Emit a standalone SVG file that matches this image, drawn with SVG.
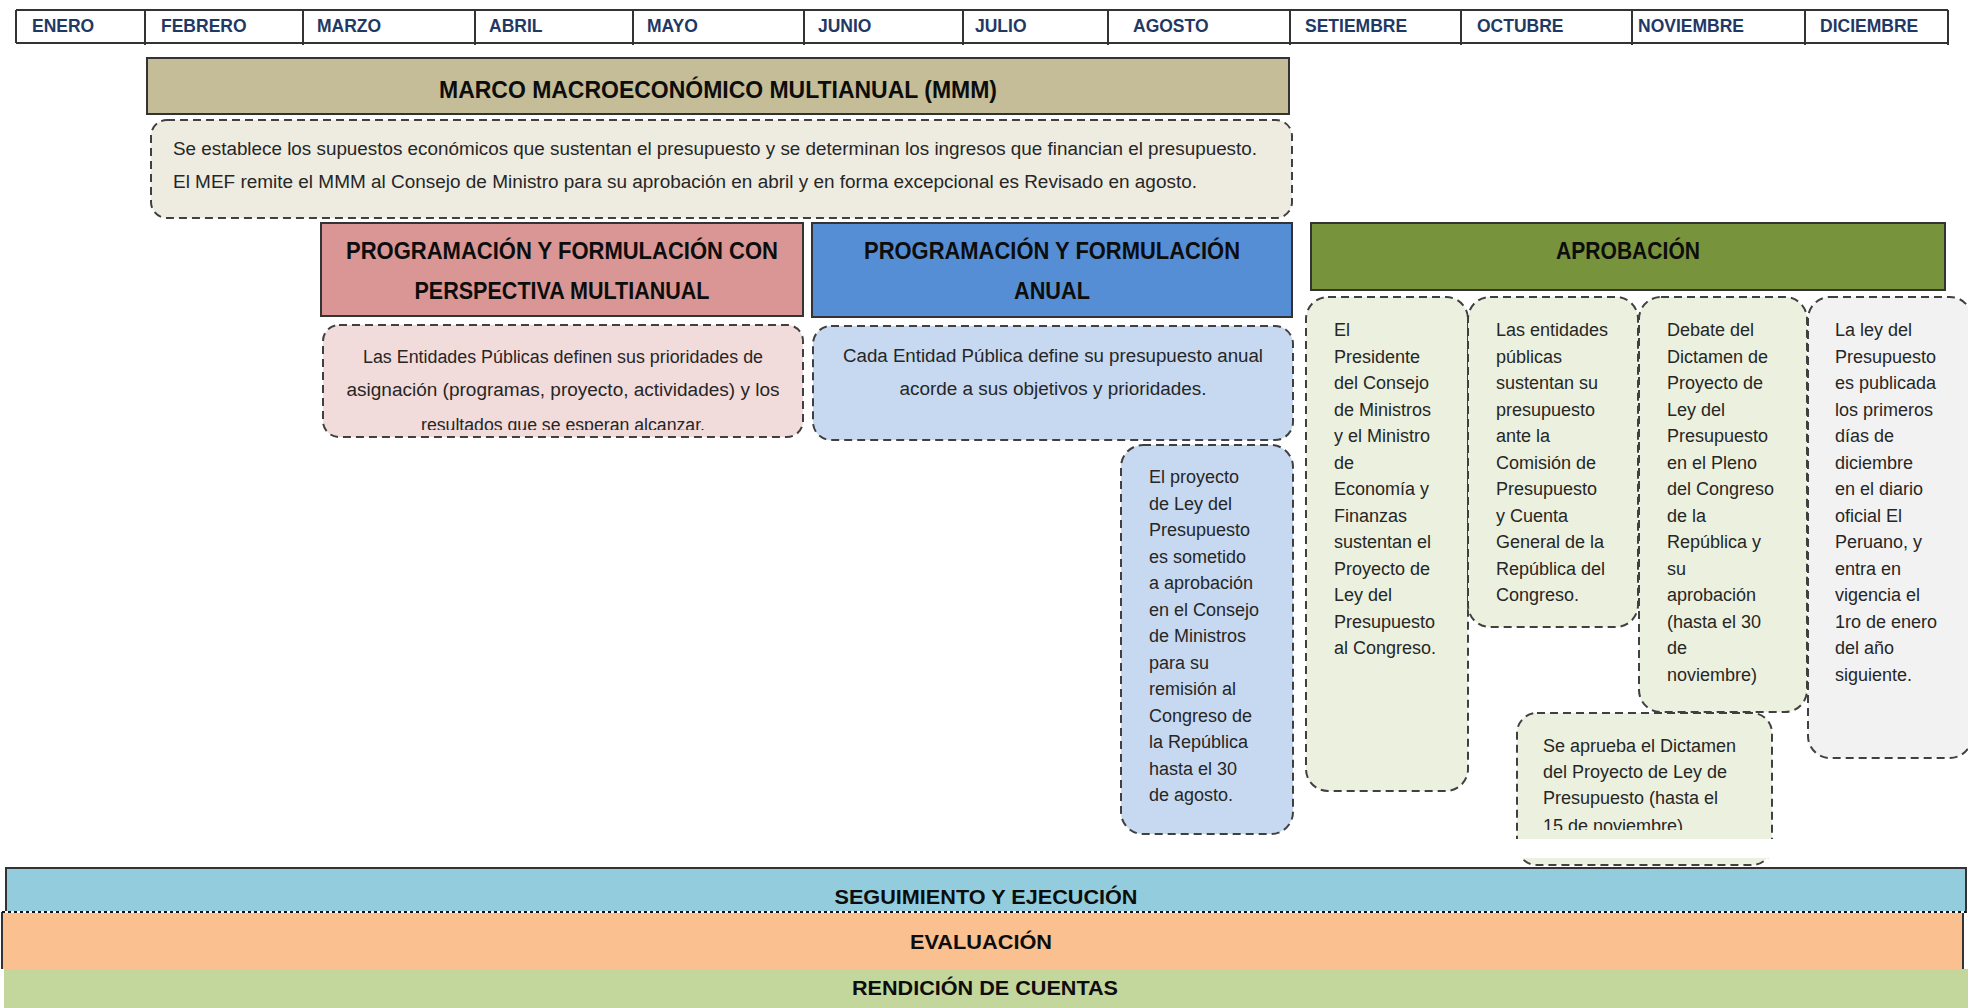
<svg xmlns="http://www.w3.org/2000/svg" width="1968" height="1008" viewBox="0 0 1968 1008">
<style>
text{font-family:"Liberation Sans",Arial,sans-serif}
.m{font-size:17.5px;font-weight:bold;fill:#1F3864}
.t{font-size:23px;font-weight:bold;fill:#0D0D0D;text-anchor:middle}
.bt{font-size:20px;font-weight:bold;fill:#0D0D0D;text-anchor:middle}
.b{font-size:18px;fill:#262626}
.c{text-anchor:middle}
.hd{stroke:#333;stroke-width:2}
.ds{stroke:#404040;stroke-width:2;stroke-dasharray:8 5}
.tl{stroke:#333;stroke-width:2;fill:none}
</style>
<defs>
<clipPath id="clipPink"><rect x="300" y="320" width="520" height="110"/></clipPath>
<clipPath id="clipAprueba"><rect x="1500" y="700" width="300" height="139"/><rect x="1500" y="858" width="300" height="20"/></clipPath>
<clipPath id="clipApruebaText"><rect x="1500" y="700" width="300" height="130"/></clipPath>
</defs>

<g id="calendar">
<path class="tl" d="M16 10H1948M16 43H1948M16 10V43M145 10V45M303 10V45M475 10V45M633 10V45M804 10V45M963 10V45M1108 10V45M1290 10V45M1461 10V45M1632 10V45M1805 10V45M1948 10V45"/>
<text class="m" x="32" y="32">ENERO</text>
<text class="m" x="161" y="32">FEBRERO</text>
<text class="m" x="317" y="32">MARZO</text>
<text class="m" x="489" y="32">ABRIL</text>
<text class="m" x="647" y="32">MAYO</text>
<text class="m" x="818" y="32">JUNIO</text>
<text class="m" x="975" y="32">JULIO</text>
<text class="m" x="1133" y="32">AGOSTO</text>
<text class="m" x="1305" y="32">SETIEMBRE</text>
<text class="m" x="1477" y="32">OCTUBRE</text>
<text class="m" x="1638" y="32">NOVIEMBRE</text>
<text class="m" x="1820" y="32">DICIEMBRE</text>
</g>

<g id="mmm">
<rect class="hd" x="147" y="58" width="1142" height="56" fill="#C4BD97"/>
<text class="t" x="718" y="98" font-size="24" textLength="558" lengthAdjust="spacingAndGlyphs">MARCO MACROECONÓMICO MULTIANUAL (MMM)</text>
</g>

<g id="mmm-desc">
<rect class="ds" x="151" y="120" width="1141" height="98" rx="16" fill="#EEECE1"/>
<text class="b" x="173" y="155" textLength="1084" lengthAdjust="spacingAndGlyphs">Se establece los supuestos económicos que sustentan el presupuesto y se determinan los ingresos que financian el presupuesto.</text>
<text class="b" x="173" y="188" textLength="1024" lengthAdjust="spacingAndGlyphs">El MEF remite el MMM al Consejo de Ministro para su aprobación en abril y en forma excepcional es Revisado en agosto.</text>
</g>

<g id="prog-multianual">
<rect class="hd" x="321" y="223" width="482" height="93" fill="#D99694"/>
<text class="t" x="562" y="259" textLength="432" lengthAdjust="spacingAndGlyphs">PROGRAMACIÓN Y FORMULACIÓN CON</text>
<text class="t" x="562" y="299" textLength="295" lengthAdjust="spacingAndGlyphs">PERSPECTIVA MULTIANUAL</text>
</g>

<g id="prog-multianual-desc">
<rect class="ds" x="323" y="325" width="480" height="112" rx="16" fill="#F2DCDB"/>
<g clip-path="url(#clipPink)">
<text class="b c" x="563" y="363" textLength="400" lengthAdjust="spacingAndGlyphs">Las Entidades Públicas definen sus prioridades de</text>
<text class="b c" x="563" y="396" textLength="433" lengthAdjust="spacingAndGlyphs">asignación (programas, proyecto, actividades) y los</text>
<text class="b c" x="563" y="431" textLength="284" lengthAdjust="spacingAndGlyphs">resultados que se esperan alcanzar.</text>
</g>
</g>

<g id="prog-anual">
<rect class="hd" x="812" y="223" width="480" height="94" fill="#558ED5"/>
<text class="t" x="1052" y="259" textLength="376" lengthAdjust="spacingAndGlyphs">PROGRAMACIÓN Y FORMULACIÓN</text>
<text class="t" x="1052" y="299" textLength="76" lengthAdjust="spacingAndGlyphs">ANUAL</text>
</g>

<g id="prog-anual-desc">
<rect class="ds" x="813" y="326" width="480" height="114" rx="18" fill="#C6D9F1"/>
<text class="b c" x="1053" y="362" textLength="420" lengthAdjust="spacingAndGlyphs">Cada Entidad Pública define su presupuesto anual</text>
<text class="b c" x="1053" y="395" textLength="307" lengthAdjust="spacingAndGlyphs">acorde a sus objetivos y prioridades.</text>
</g>

<g id="proyecto-ley">
<rect class="ds" x="1121" y="445" width="172" height="389" rx="22" fill="#C6D9F1"/>
<text class="b" x="1149" y="483">El proyecto</text>
<text class="b" x="1149" y="509.5">de Ley del</text>
<text class="b" x="1149" y="536">Presupuesto</text>
<text class="b" x="1149" y="562.5">es sometido</text>
<text class="b" x="1149" y="589">a aprobación</text>
<text class="b" x="1149" y="615.5">en el Consejo</text>
<text class="b" x="1149" y="642">de Ministros</text>
<text class="b" x="1149" y="668.5">para su</text>
<text class="b" x="1149" y="695">remisión al</text>
<text class="b" x="1149" y="721.5">Congreso de</text>
<text class="b" x="1149" y="748">la República</text>
<text class="b" x="1149" y="774.5">hasta el 30</text>
<text class="b" x="1149" y="801">de agosto.</text>
</g>

<g id="aprobacion">
<rect class="hd" x="1311" y="223" width="634" height="67" fill="#77933C"/>
<text class="t" x="1628" y="259" textLength="144" lengthAdjust="spacingAndGlyphs">APROBACIÓN</text>
</g>

<g id="aprob-presidente">
<rect class="ds" x="1306" y="297" width="162" height="494" rx="22" fill="#EBF1DE"/>
<text class="b" x="1334" y="336">El</text>
<text class="b" x="1334" y="362.5">Presidente</text>
<text class="b" x="1334" y="389">del Consejo</text>
<text class="b" x="1334" y="415.5">de Ministros</text>
<text class="b" x="1334" y="442">y el Ministro</text>
<text class="b" x="1334" y="468.5">de</text>
<text class="b" x="1334" y="495">Economía y</text>
<text class="b" x="1334" y="521.5">Finanzas</text>
<text class="b" x="1334" y="548">sustentan el</text>
<text class="b" x="1334" y="574.5">Proyecto de</text>
<text class="b" x="1334" y="601">Ley del</text>
<text class="b" x="1334" y="627.5">Presupuesto</text>
<text class="b" x="1334" y="654">al Congreso.</text>
</g>

<g id="aprob-entidades">
<rect class="ds" x="1468" y="297" width="170" height="330" rx="22" fill="#EBF1DE"/>
<text class="b" x="1496" y="336">Las entidades</text>
<text class="b" x="1496" y="362.5">públicas</text>
<text class="b" x="1496" y="389">sustentan su</text>
<text class="b" x="1496" y="415.5">presupuesto</text>
<text class="b" x="1496" y="442">ante la</text>
<text class="b" x="1496" y="468.5">Comisión de</text>
<text class="b" x="1496" y="495">Presupuesto</text>
<text class="b" x="1496" y="521.5">y Cuenta</text>
<text class="b" x="1496" y="548">General de la</text>
<text class="b" x="1496" y="574.5">República del</text>
<text class="b" x="1496" y="601">Congreso.</text>
</g>

<g id="aprob-debate">
<rect class="ds" x="1639" y="297" width="168" height="415" rx="22" fill="#EBF1DE"/>
<text class="b" x="1667" y="336">Debate del</text>
<text class="b" x="1667" y="362.5">Dictamen de</text>
<text class="b" x="1667" y="389">Proyecto de</text>
<text class="b" x="1667" y="415.5">Ley del</text>
<text class="b" x="1667" y="442">Presupuesto</text>
<text class="b" x="1667" y="468.5">en el Pleno</text>
<text class="b" x="1667" y="495">del Congreso</text>
<text class="b" x="1667" y="521.5">de la</text>
<text class="b" x="1667" y="548">República y</text>
<text class="b" x="1667" y="574.5">su</text>
<text class="b" x="1667" y="601">aprobación</text>
<text class="b" x="1667" y="627.5">(hasta el 30</text>
<text class="b" x="1667" y="654">de</text>
<text class="b" x="1667" y="680.5">noviembre)</text>
</g>

<g id="aprob-publicacion">
<rect class="ds" x="1808" y="297" width="164" height="461" rx="22" fill="#F2F2F2"/>
<text class="b" x="1835" y="336">La ley del</text>
<text class="b" x="1835" y="362.5">Presupuesto</text>
<text class="b" x="1835" y="389">es publicada</text>
<text class="b" x="1835" y="415.5">los primeros</text>
<text class="b" x="1835" y="442">días de</text>
<text class="b" x="1835" y="468.5">diciembre</text>
<text class="b" x="1835" y="495">en el diario</text>
<text class="b" x="1835" y="521.5">oficial El</text>
<text class="b" x="1835" y="548">Peruano, y</text>
<text class="b" x="1835" y="574.5">entra en</text>
<text class="b" x="1835" y="601">vigencia el</text>
<text class="b" x="1835" y="627.5">1ro de enero</text>
<text class="b" x="1835" y="654">del año</text>
<text class="b" x="1835" y="680.5">siguiente.</text>
</g>

<g id="aprob-dictamen">
<g clip-path="url(#clipAprueba)">
<rect class="ds" x="1517" y="713" width="255" height="152" rx="20" fill="#EBF1DE"/>
</g>
<g clip-path="url(#clipApruebaText)">
<text class="b" x="1543" y="752">Se aprueba el Dictamen</text>
<text class="b" x="1543" y="778">del Proyecto de Ley de</text>
<text class="b" x="1543" y="804">Presupuesto (hasta el</text>
<text class="b" x="1543" y="832">15 de noviembre)</text>
</g>
</g>

<g id="seguimiento">
<rect class="hd" x="6" y="868" width="1960" height="44" fill="#93CDDD"/>
<text class="bt" x="986" y="904" textLength="303" lengthAdjust="spacingAndGlyphs">SEGUIMIENTO Y EJECUCIÓN</text>
</g>

<g id="evaluacion">
<rect x="2" y="912" width="1961" height="57" fill="#FAC090"/>
<path d="M2 912V969M1963 912V969" stroke="#333" stroke-width="2"/>
<line x1="2" y1="912" x2="1966" y2="912" stroke="#fff" stroke-width="2"/>
<line x1="2" y1="912" x2="1966" y2="912" stroke="#111" stroke-width="2" stroke-dasharray="3 3"/>
<text class="bt" x="981" y="949" textLength="142" lengthAdjust="spacingAndGlyphs">EVALUACIÓN</text>
</g>

<g id="rendicion">
<rect x="4" y="969" width="1964" height="39" fill="#C3D69B"/>
<text class="bt" x="985" y="995" textLength="266" lengthAdjust="spacingAndGlyphs">RENDICIÓN DE CUENTAS</text>
</g>

<g id="connectors"></g>
</svg>
